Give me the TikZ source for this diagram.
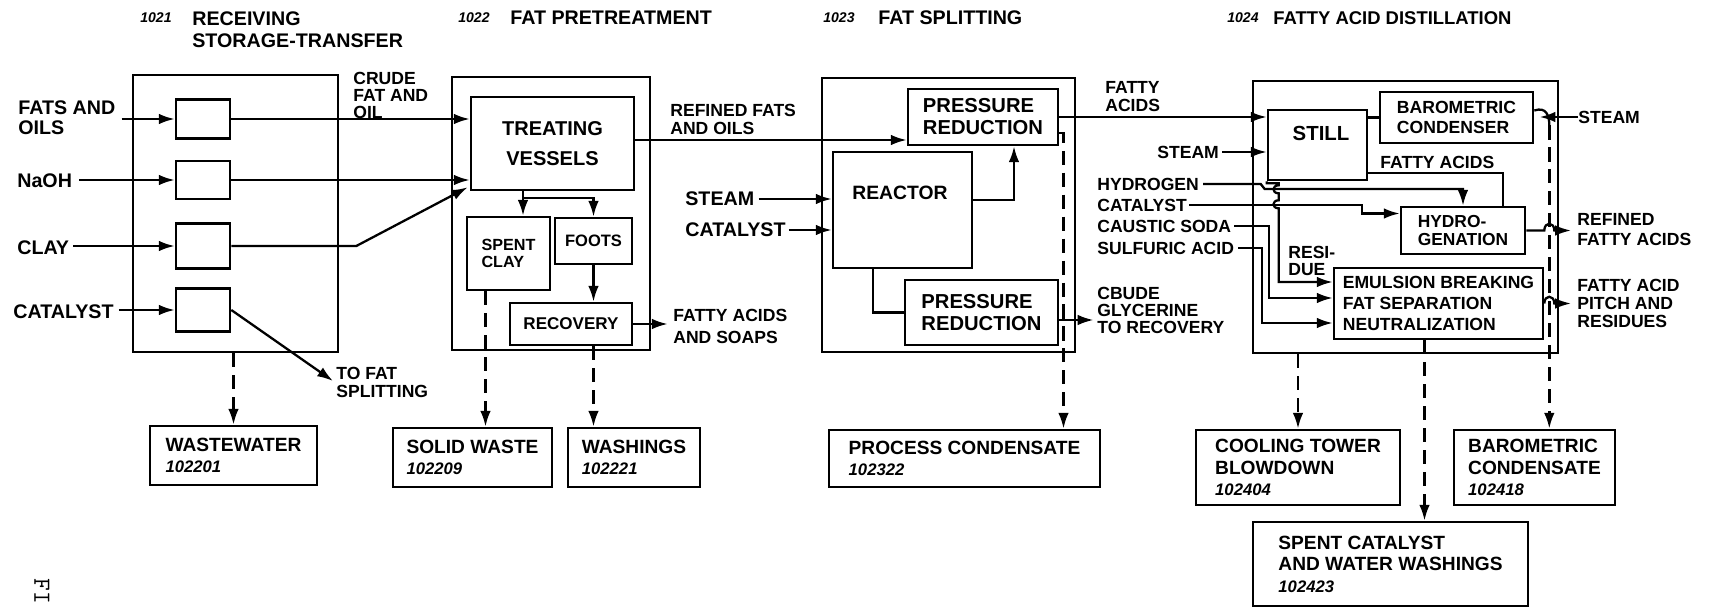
\documentclass[tikz,border=0pt]{standalone}
\usepackage{fontspec}
\setmainfont{Liberation Sans}
\usetikzlibrary{arrows.meta,calc}
\newcommand{\pnum}[1]{{\fontsize{9.5}{10}\selectfont\itshape #1}}

\begin{document}
\begin{tikzpicture}[x=0.02cm,y=-0.02cm,
	every node/.style={inner sep=0pt},
	ttl/.style={font=\fontsize{11.2}{12.5}\selectfont\bfseries, anchor=west, align=left},
	ttn/.style={font=\fontsize{8}{9}\selectfont\bfseries\itshape, anchor=west},
	big/.style={font=\fontsize{11.2}{11.4}\selectfont\bfseries, anchor=west, align=left},
	sml/.style={font=\fontsize{10}{10.2}\selectfont\bfseries, anchor=west, align=left},
	blk/.style={draw, line width=1.5pt, align=left},
	outbox/.style={blk, font=\fontsize{10.9}{12.2}\selectfont\bfseries},
	flow/.style={line width=1.3pt, -{Latex[length=9pt,width=6pt]}},
	pipe/.style={line width=1.3pt},
	dsh/.style={line width=1.4pt, dash pattern=on 8pt off 4.5pt, -{Latex[length=9pt,width=6pt]}}]
		\useasboundingbox (0,0) rectangle (1715,608);
		% titles
		\node[ttn] (n1021) at (140,18) {1021};
		\node[ttl, anchor=north west] (t1021) at (192,11) {RECEIVING\\STORAGE-TRANSFER};
		\node[ttn] (n1022) at (458,18) {1022};
		\node[ttl] (t1022) at (510,18) {FAT PRETREATMENT};
		\node[ttn] (n1023) at (823,18) {1023};
		\node[ttl] (t1023) at (878,18) {FAT SPLITTING};
		\node[ttn] (n1024) at (1227,18) {1024};
		\node[ttl, font=\fontsize{10.5}{12}\selectfont\bfseries] (t1024) at (1273,18) {FATTY ACID DISTILLATION};
		% 1021 receiving
		\node[blk, minimum width=4.10cm, minimum height=5.54cm] (sec1) at (235.5,213.5) {};
		\node[blk, minimum width=1.08cm, minimum height=0.78cm] (tank1) at (203,119) {};
		\node[blk, minimum width=1.08cm, minimum height=0.76cm] (tank2) at (203,180) {};
		\node[blk, minimum width=1.08cm, minimum height=0.90cm] (tank3) at (203,246) {};
		\node[blk, minimum width=1.08cm, minimum height=0.86cm] (tank4) at (203,310) {};
		\node[big] (fats) at (18,118) {FATS AND\\OILS};
		\node[big] (naoh) at (17,181) {NaOH};
		\node[big] (clay) at (17,248) {CLAY};
		\node[big] (cat0) at (13,312) {CATALYST};
		\node[sml] (crude) at (353,95) {CRUDE\\[-0.5pt]FAT AND\\[-0.5pt]OIL};
		\node[sml] (tofat) at (336,382) {TO FAT\\SPLITTING};
		% 1022 pretreatment
		\node[blk, minimum width=3.96cm, minimum height=5.46cm] (sec2) at (551,213.5) {};
		\node[blk, align=center, minimum width=3.26cm, minimum height=1.86cm, font=\fontsize{11.4}{17}\selectfont\bfseries] (treat) at (552.5,143.5) {TREATING\\VESSELS};
		\node[blk, minimum width=1.66cm, minimum height=1.46cm, font=\fontsize{9.2}{9.7}\selectfont\bfseries] (spent) at (508.5,253.5) {SPENT\\CLAY};
		\node[blk, minimum width=1.54cm, minimum height=0.92cm, font=\fontsize{9.4}{10}\selectfont\bfseries] (foots) at (593.5,241) {FOOTS};
		\node[blk, minimum width=2.44cm, minimum height=0.84cm, font=\fontsize{9.7}{10}\selectfont\bfseries] (recov) at (571,324) {RECOVERY};
		\node[sml] (refin) at (670,119) {REFINED FATS\\AND OILS};
		\node[sml] (fasoap) at (673,326) {FATTY ACIDS\\[2.3pt]AND SOAPS};
		\node[big] (steam1) at (685,199) {STEAM};
		\node[big] (cat1) at (685,230) {CATALYST};
		% 1023 splitting
		\node[blk, minimum width=5.06cm, minimum height=5.48cm] (sec3) at (948.5,215) {};
		\node[blk, minimum width=3.0cm, minimum height=1.12cm, font=\fontsize{11.5}{12.5}\selectfont\bfseries] (prtop) at (983,117) {PRESSURE\\REDUCTION};
		\node[blk, minimum width=2.78cm, minimum height=2.32cm] (reactor) at (902.5,210) {};
		\node[big, font=\fontsize{11}{12}\selectfont\bfseries] (reacttxt) at (852,193) {REACTOR};
		\node[blk, minimum width=3.06cm, minimum height=1.30cm, font=\fontsize{11.5}{12.5}\selectfont\bfseries] (prbot) at (981.5,312.5) {PRESSURE\\REDUCTION};
		\node[sml] (facid) at (1105,97) {FATTY\\ACIDS};
		\node[sml] (glyc) at (1097,310) {CBUDE\\[-0.5pt]GLYCERINE\\[-0.5pt]TO RECOVERY};
		% 1024 distillation
		\node[blk, minimum width=6.10cm, minimum height=5.44cm] (sec4) at (1405.5,217) {};
		\node[blk, minimum width=1.98cm, minimum height=1.40cm] (still) at (1317.5,145) {};
		\node[font=\fontsize{11.6}{12}\selectfont\bfseries] (stilltxt) at (1321,133) {STILL};
		\node[blk, minimum width=3.06cm, minimum height=1.02cm, font=\fontsize{10}{11.4}\selectfont\bfseries] (bcond) at (1456.5,117.5) {BAROMETRIC\\CONDENSER};
		\node[sml] (fa2) at (1380,162) {FATTY ACIDS};
		\node[blk, minimum width=2.48cm, minimum height=0.94cm, font=\fontsize{9.9}{9.7}\selectfont\bfseries] (hydro) at (1463,230.5) {HYDRO-\\GENATION};
		\node[blk, minimum width=4.18cm, minimum height=1.42cm, font=\fontsize{10}{12.2}\selectfont\bfseries] (emul) at (1438.5,303.5) {EMULSION BREAKING\\FAT SEPARATION\\NEUTRALIZATION};
		\node[sml] (resid) at (1288,260.5) {RESI-\\[-0.5pt]DUE};
		\node[sml] (stm2) at (1157,152) {STEAM};
		\node[sml] (hyd) at (1097,184) {HYDROGEN};
		\node[sml] (cat2) at (1097,205) {CATALYST};
		\node[sml] (caus) at (1097,226) {CAUSTIC SODA};
		\node[sml] (sulf) at (1097,248) {SULFURIC ACID};
		\node[sml] (stm3) at (1578,117) {STEAM};
		\node[sml] (rfa) at (1577,230) {REFINED\\[1.2pt]FATTY ACIDS};
		\node[sml] (pitch) at (1577,303.5) {FATTY ACID\\PITCH AND\\RESIDUES};
		% discharge boxes
		\node[outbox, minimum width=3.34cm, minimum height=1.18cm] (ww) at (233.5,455.5) {WASTEWATER\\\pnum{102201}};
		\node[outbox, minimum width=3.18cm, minimum height=1.18cm] (solid) at (472.5,457.5) {SOLID WASTE\\\pnum{102209}};
		\node[outbox, minimum width=2.64cm, minimum height=1.18cm] (wash) at (634,457.5) {WASHINGS\\\pnum{102221}};
		\node[outbox, minimum width=5.42cm, minimum height=1.14cm] (proc) at (964.5,458.5) {PROCESS CONDENSATE\\\pnum{102322}};
		\node[outbox, minimum width=4.08cm, minimum height=1.50cm] (cool) at (1298,467.5) {COOLING TOWER\\BLOWDOWN\\\pnum{102404}};
		\node[outbox, minimum width=3.22cm, minimum height=1.50cm] (bcdn) at (1534.5,467.5) {BAROMETRIC\\CONDENSATE\\\pnum{102418}};
		\node[outbox, minimum width=5.50cm, minimum height=1.68cm] (spcat) at (1390.5,564) {SPENT CATALYST\\AND WATER WASHINGS\\\pnum{102423}};
		\node[font=\fontsize{14}{14}\selectfont\ttfamily, rotate=-90] (figfrag) at (42,591) {FI};
		% 1021 flows
		\draw[flow] ($(fats.east |- tank1.west)+(6,0)$) -- (tank1.west);
		\draw[flow] ($(naoh.east |- tank2.west)+(7,0)$) -- (tank2.west);
		\draw[flow] ($(clay.east |- tank3.west)+(4,0)$) -- (tank3.west);
		\draw[flow] ($(cat0.east |- tank4.west)+(5,0)$) -- (tank4.west);
		\draw[flow] (tank1.east) -- (tank1.east -| treat.west);
		\draw[flow] (tank2.east) -- (tank2.east -| treat.west);
		\coordinate (clayin) at ($(treat.south west)+(-2,-4)$);
		\draw[flow] (tank3.east) -- ++(125,0) -- (clayin);
		\draw[flow] (tank4.east) -- ($(tofat.west)+(-3,-1)$);
		\draw[dsh] (ww.north |- sec1.south) -- (ww.north);
		% 1022 flows
		\coordinate (tv) at ($(treat.south)+(-29.5,0)$);
		\draw[flow] (tv) -- (tv |- spent.north);
		\draw[flow] ($(tv)+(0,7)$) -| (foots.north);
		\draw[flow] (foots.south) -- (foots.south |- recov.north);
		\draw[flow, shorten >=3pt] (recov.east) -- (recov.east -| fasoap.west);
		\coordinate (sc) at ($(spent.south)+(-23,0)$);
		\draw[dsh] (sc) -- (sc |- solid.north);
		\draw[dsh] (foots.south |- recov.south) -- (foots.south |- wash.north);
		\coordinate (rf) at ($(treat.east)+(0,-3.5)$);
		\draw[flow] (rf) -- (rf -| prtop.west);
		% 1023 flows
		\draw[flow] ($(steam1.east)+(4,0)$) -- (steam1.east -| reactor.west);
		\draw[flow] ($(cat1.east)+(3,0)$) -- (cat1.east -| reactor.west);
		\draw[flow] ($(reactor.east)+(0,-10)$) -| ($(prtop.south)+(31,0)$);
		\draw[pipe] ($(reactor.south)+(-29.5,0)$) |- (prbot.west);
		\coordinate (gl) at ($(prbot.east)+(0,7.5)$);
		\draw[flow, shorten >=2pt] (gl) -- (gl -| glyc.west);
		\coordinate (cd) at ($(prtop.east)+(0,16)$);
		\draw[dsh] (cd) -| ($(proc.north)+(99,0)$);
		\draw[flow] (prtop.east) -- (prtop.east -| still.west);
		% 1024 flows
		\draw[flow] ($(stm2.east)+(3,0)$) -- (stm2.east -| still.west);
		\draw[pipe] (still.east |- bcond.west) -- (bcond.west);
		\draw[flow, shorten >=3pt] (stm3.west) -- (stm3.west -| bcond.east);
		\draw[pipe] ($(still.east)+(0,28)$) -| ($(hydro.north)+(40,0)$);
		\draw[flow] ($(hyd.east)+(4,0)$) -- ($(hyd.east -| still.west)+(-6,0)$) -- ++(4,5) -| (hydro.north);
		\draw[flow] ($(cat2.east)+(2,0)$) -| ($(hydro.west)+(-38,-17)$) -- ($(hydro.west)+(0,-17)$);
		\draw[flow] ($(caus.east)+(3,0)$) -| ($(emul.west)+(-64,-5.5)$) -- ($(emul.west)+(0,-5.5)$);
		\draw[flow] ($(sulf.east)+(4,0)$) -| ($(emul.west)+(-71,19.5)$) -- ($(emul.west)+(0,19.5)$);
		\draw[flow] (still.south west) -- ++(0,2) -- ++(12,0) -- ++(0,2)
			.. controls +(-7,0) and +(-7,0) .. ++(0,8) -- ++(0,7)
			.. controls +(-7,0) and +(-7,0) .. ++(0,8)
			|- ($(emul.west)+(0,-21.5)$);
		\coordinate (bh) at ($(bcond.east)+(0,-7)$);
		\coordinate (bd) at ($(bcond.east)+(15,8)$);
		\draw[pipe] (bh) .. controls +(12,-4) and +(0,-10) .. (bd);
		\draw[dsh] (bd) -- (bd |- bcdn.north);
		\draw[flow] (hydro.east) -- ($(bd |- hydro.east)+(-5,0)$) .. controls +(0,-9) and +(0,-9) .. ++(10,0) -- ($(hydro.east -| rfa.west)+(-6,0)$);
		\draw[flow] (emul.east) .. controls +(0,-9) and +(0,-9) .. ++(10,0) -- ($(emul.east -| pitch.west)+(-6,0)$);
		\draw[dsh] (cool.north |- sec4.south) -- (cool.north);
		\coordinate (ec) at ($(emul.south)+(-14,0)$);
		\draw[dsh] (ec) -- (ec |- spcat.north);
	\end{tikzpicture}
\end{document}
